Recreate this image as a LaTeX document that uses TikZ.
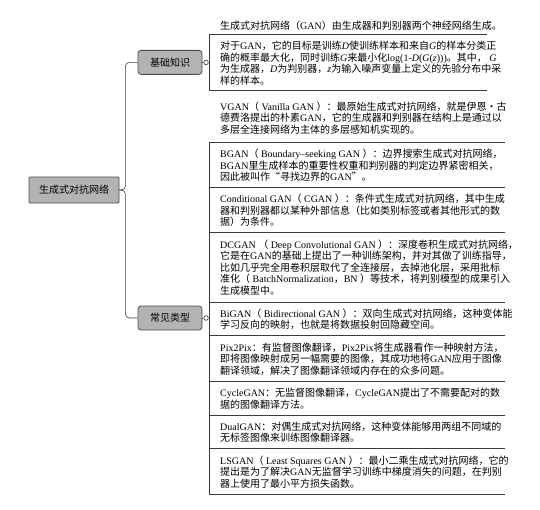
\documentclass[tikz,border=0pt]{standalone}
\usepackage{fontspec}
\setmainfont{Noto Sans CJK SC}
\newfontfamily\latinf{Liberation Serif}
\newcommand\E[1]{{\latinf #1}}
\newcommand\EI[1]{{\latinf\itshape #1}}
\definecolor{nodefill}{HTML}{B3B3B3}
\definecolor{nodeedge}{HTML}{4D4D4D}
\definecolor{linec}{HTML}{3A3A3A}
\begin{document}
\begin{tikzpicture}[x=1pt,y=-1pt,
  topic/.style={draw=nodeedge, fill=nodefill, line width=0.8pt, minimum width=64pt,
    minimum height=24pt, inner sep=0pt, rounded corners=3pt, font=\fontsize{10}{12}\selectfont},
  item/.style={anchor=north west, inner sep=0pt, align=left, font=\fontsize{10}{11.5}\selectfont},
  conn/.style={draw=linec, line width=0.6pt},
  knob/.style={circle, draw=linec, fill=white, line width=0.6pt, minimum size=4.6pt, inner sep=0pt}]
\useasboundingbox (0,0) rectangle (540,509);

% topics
\node[topic, rounded corners=1pt, minimum width=90pt, minimum height=26pt] (root) at (74,190) {生成式对抗网络};
\node[topic] (basic) at (170,62.35) {基础知识};
\node[topic] (types) at (170,318) {常见类型};
\node[knob] (k1) at (206,62.35) {};
\node[knob] (k2) at (206,318) {};
\draw[conn] (basic.east) -- (k1.west);
\draw[conn] (types.east) -- (k2.west);
\draw[conn, rounded corners=4pt] (root.east) -- ++(6,0) |- (basic.west);
\draw[conn, rounded corners=4pt] (root.east) -- ++(6,0) |- (types.west);

% group 1 bracket
\coordinate (g1t) at (209,34);
\coordinate (g1b) at (209,90.7);
\draw[conn] (487,34) -- (g1t) -- (g1b) -- (487,90.7);

% group 2 bracket
\coordinate (g2t) at (209,142);
\coordinate (g2b) at (209,493.9);
\draw[conn] (505,142) -- (g2t) -- (g2b) -- (505,493.9);
\foreach \yy in {187.3,232.6,301.9,335.7,381.0,414.8,448.6}
  \draw[conn] (209,\yy) -- (505,\yy);

% group 1 texts
\node[item] (t11) at (220,19.8) {\rule{0pt}{9pt}生成式对抗网络（\E{GAN}）由生成器和判别器两个神经网络生成。};
\node[item] (t12) at (220,40.3) {\rule{0pt}{9pt}对于\E{GAN}，它的目标是训练\EI{D}使训练样本和来自\EI{G}的样本分类正\\
确的概率最大化，同时训练\EI{G}来最小化\E{log(1-}\EI{D}\E{(}\EI{G}\E{(}\EI{z}\E{)))}。其中，\E{ }\EI{G}\\
为生成器，\EI{D}为判别器，\EI{z}为输入噪声变量上定义的先验分布中采\\
样的样本。};

% group 2 texts
\node[item] (t21) at (220,100.8) {\rule{0pt}{9pt}\E{VGAN}（\E{ Vanilla GAN }）：最原始生成式对抗网络，就是伊恩·古\\
德费洛提出的朴素\E{GAN}，它的生成器和判别器在结构上是通过以\\
多层全连接网络为主体的多层感知机实现的。};
\node[item] (t22) at (220,148.3) {\rule{0pt}{9pt}\E{BGAN}（\E{ Boundary–seeking GAN }）：边界搜索生成式对抗网络，\\
\E{BGAN}里生成样本的重要性权重和判别器的判定边界紧密相关，\\
因此被叫作“寻找边界的\E{GAN}”。};
\node[item] (t23) at (220,193.6) {\rule{0pt}{9pt}\E{Conditional GAN}（\E{ CGAN }）：条件式生成式对抗网络，其中生成\\
器和判别器都以某种外部信息（比如类别标签或者其他形式的数\\
据）为条件。};
\node[item] (t24) at (220,238.9) {\rule{0pt}{9pt}\E{DCGAN }（\E{ Deep Convolutional GAN }）：深度卷积生成式对抗网络，\\
它是在\E{GAN}的基础上提出了一种训练架构，并对其做了训练指导，\\
比如几乎完全用卷积层取代了全连接层，去掉池化层，采用批标\\
准化（\E{ BatchNormalization}，\E{BN }）等技术，将判别模型的成果引入\\
生成模型中。};
\node[item] (t25) at (220,308.2) {\rule{0pt}{9pt}\E{BiGAN}（\E{ Bidirectional GAN }）：双向生成式对抗网络，这种变体能\\
学习反向的映射，也就是将数据投射回隐藏空间。};
\node[item] (t26) at (220,342.0) {\rule{0pt}{9pt}\E{Pix2Pix}：有监督图像翻译，\E{Pix2Pix}将生成器看作一种映射方法，\\
即将图像映射成另一幅需要的图像，其成功地将\E{GAN}应用于图像\\
翻译领域，解决了图像翻译领域内存在的众多问题。};
\node[item] (t27) at (220,387.3) {\rule{0pt}{9pt}\E{CycleGAN}：无监督图像翻译，\E{CycleGAN}提出了不需要配对的数\\
据的图像翻译方法。};
\node[item] (t28) at (220,421.1) {\rule{0pt}{9pt}\E{DualGAN}：对偶生成式对抗网络，这种变体能够用两组不同域的\\
无标签图像来训练图像翻译器。};
\node[item] (t29) at (220,454.9) {\rule{0pt}{9pt}\E{LSGAN}（\E{ Least Squares GAN }）：最小二乘生成式对抗网络，它的\\
提出是为了解决\E{GAN}无监督学习训练中梯度消失的问题，在判别\\
器上使用了最小平方损失函数。};
\end{tikzpicture}
\end{document}
